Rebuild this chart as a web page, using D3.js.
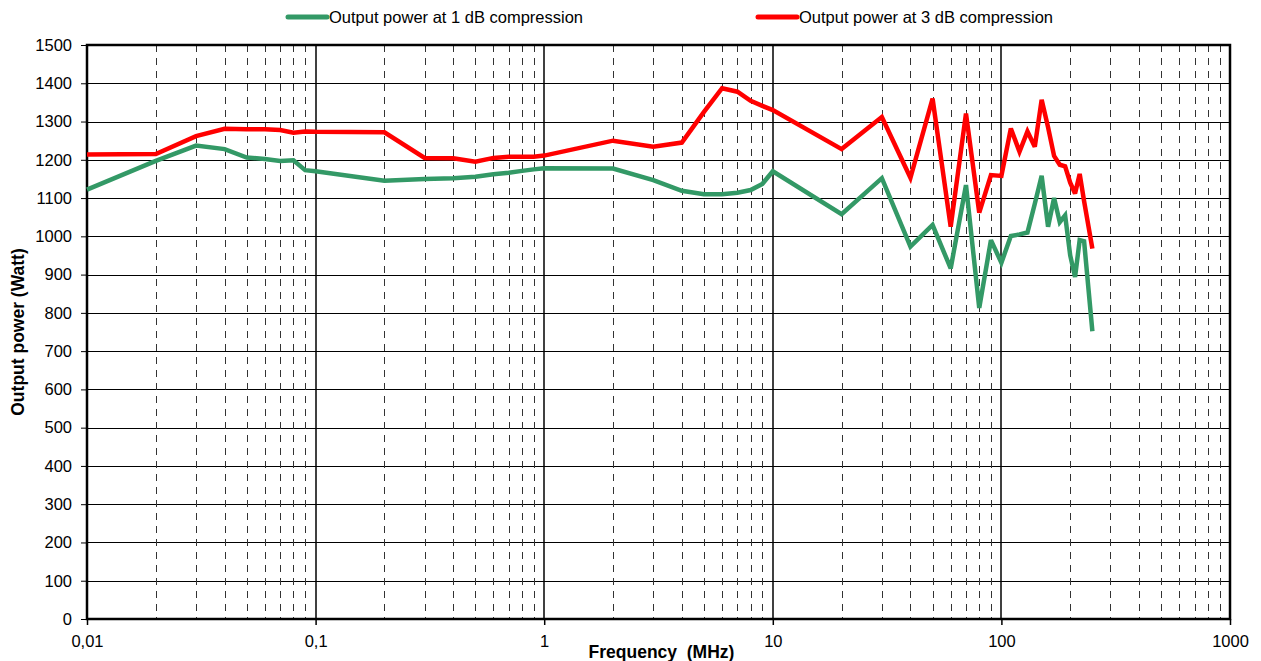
<!DOCTYPE html>
<html>
<head>
<meta charset="utf-8">
<script src="https://cdn.jsdelivr.net/npm/d3@7"></script>
<style>
  body { margin: 0; background: #fff; }
  text { font-family: "Liberation Sans", Arial, sans-serif; fill: #000; }
</style>
</head>
<body>
<div id="chart"></div>
<script>
// frequency points (MHz)
var freq = [0.01,0.02,0.03,0.04,0.05,0.06,0.07,0.08,0.09,
  0.1,0.2,0.3,0.4,0.5,0.6,0.7,0.8,0.9,
  1,2,3,4,5,6,7,8,9,
  10,20,30,40,50,60,70,80,90,
  100,110,120,130,140,150,160,170,180,190,200,210,220,230,250];

// output power at 1 dB compression (Watt)
var p1dB = [1122,1197,1237,1228,1206,1202,1197,1199,1173,
  1170,1145,1150,1152,1156,1162,1166,1171,1175,
  1178,1177,1147,1119,1110,1110,1114,1121,1137,
  1170,1058,1152,973,1030,916,1134,813,990,
  931,1001,1005,1010,1085,1158,1025,1100,1037,1055,950,894,990,987,752];

// output power at 3 dB compression (Watt)
var p3dB = [1214,1215,1262,1281,1280,1280,1278,1271,1274,
  1273,1272,1205,1204,1195,1205,1208,1208,1208,
  1211,1250,1234,1245,1325,1387,1378,1354,1341,
  1330,1228,1312,1153,1360,1025,1321,1062,1160,
  1158,1282,1221,1274,1234,1357,1285,1210,1187,1183,1140,1112,1163,1092,968];

var xTicks = [0.01,0.1,1,10,100,1000];
var xTickLabels = ["0,01","0,1","1","10","100","1000"];
var yTicks = d3.range(0, 1501, 100);

var seriesNames = ["Output power at 1 dB compression", "Output power at 3 dB compression"];
var seriesColors = ["#339966", "#ff0000"];

var W = 1261, H = 661;
var margin = {top: 45, right: 31, bottom: 42, left: 87};
var width = W - margin.left - margin.right,
    height = H - margin.top - margin.bottom;

var svg = d3.select("#chart").append("svg")
  .attr("width", W)
  .attr("height", H);

var g = svg.append("g")
  .attr("transform", "translate(" + margin.left + "," + margin.top + ")");

var x = d3.scaleLog().domain([0.01, 1000]).range([0, width]);
var y = d3.scaleLinear().domain([0, 1500]).range([height, 0]);

// horizontal grid
g.append("g").selectAll("line")
  .data(yTicks.filter(function(d){ return d > 0 && d < 1500; }))
  .enter().append("line")
  .attr("x1", 0).attr("x2", width)
  .attr("y1", function(d){ return Math.round(y(d)) + 0.5; })
  .attr("y2", function(d){ return Math.round(y(d)) + 0.5; })
  .attr("stroke", "#000").attr("stroke-width", 1);

// vertical minor grid (dashed)
var minor = [];
[0.01,0.1,1,10,100].forEach(function(d){
  for (var k = 2; k <= 9; k++) minor.push(d * k);
});
g.append("g").selectAll("line")
  .data(minor)
  .enter().append("line")
  .attr("x1", function(d){ return Math.round(x(d)) + 0.5; })
  .attr("x2", function(d){ return Math.round(x(d)) + 0.5; })
  .attr("y1", 0).attr("y2", height)
  .attr("stroke", "#333").attr("stroke-width", 1)
  .attr("stroke-dasharray", "7,6");

// vertical major grid
g.append("g").selectAll("line")
  .data([0.1,1,10,100])
  .enter().append("line")
  .attr("x1", function(d){ return Math.round(x(d)); })
  .attr("x2", function(d){ return Math.round(x(d)); })
  .attr("y1", 0).attr("y2", height)
  .attr("stroke", "#000").attr("stroke-width", 1.5);

// axes
var xAxis = d3.axisBottom(x)
  .tickValues(xTicks)
  .tickFormat(function(d, i){ return xTickLabels[i]; })
  .tickSize(6).tickPadding(10);
var gx = g.append("g")
  .attr("transform", "translate(0," + height + ")")
  .call(xAxis);
gx.select(".domain").remove();
gx.selectAll("line").attr("stroke", "#000").attr("stroke-width", 1.5);
gx.selectAll("text").style("font-size", "16.5px")
  .style("font-family", "'Liberation Sans', Arial, sans-serif");

var yAxis = d3.axisLeft(y)
  .tickValues(yTicks)
  .tickFormat(d3.format("d"))
  .tickSize(6).tickPadding(9);
var gy = g.append("g").call(yAxis);
gy.select(".domain").remove();
gy.selectAll("line").attr("stroke", "#000").attr("stroke-width", 1);
gy.selectAll("text").style("font-size", "16.5px")
  .style("font-family", "'Liberation Sans', Arial, sans-serif");

// plot frame
g.append("rect")
  .attr("x", 0).attr("y", 0)
  .attr("width", width).attr("height", height)
  .attr("fill", "none")
  .attr("stroke", "#000").attr("stroke-width", 2.5);

// lines
var line = d3.line()
  .x(function(d){ return x(d[0]); })
  .y(function(d){ return y(d[1]); });

[p1dB, p3dB].forEach(function(vals, i){
  g.append("path")
    .datum(freq.map(function(f, j){ return [f, vals[j]]; }))
    .attr("d", line)
    .attr("fill", "none")
    .attr("stroke", seriesColors[i])
    .attr("stroke-width", 4.5)
    .attr("stroke-linejoin", "miter")
    .attr("stroke-miterlimit", 3);
});

// axis titles
svg.append("text")
  .attr("x", margin.left + width / 2 + 3)
  .attr("y", 658)
  .attr("text-anchor", "middle")
  .style("font-size", "17.5px")
  .style("font-weight", "bold")
  .style("white-space", "pre")
  .text("Frequency  (MHz)");

svg.append("text")
  .attr("transform", "translate(24," + (margin.top + height / 2) + ") rotate(-90)")
  .attr("text-anchor", "middle")
  .style("font-size", "17.5px")
  .style("font-weight", "bold")
  .text("Output power (Watt)");

// legend
var legendX = [288, 758];
seriesNames.forEach(function(name, i){
  var lg = svg.append("g").attr("transform", "translate(" + legendX[i] + ",17)");
  lg.append("line")
    .attr("x1", 0).attr("x2", 39)
    .attr("y1", 0).attr("y2", 0)
    .attr("stroke", seriesColors[i])
    .attr("stroke-width", 5)
    .attr("stroke-linecap", "round");
  lg.append("text")
    .attr("x", 41).attr("y", 6)
    .style("font-size", "16.5px")
    .text(name);
});
</script>
</body>
</html>
